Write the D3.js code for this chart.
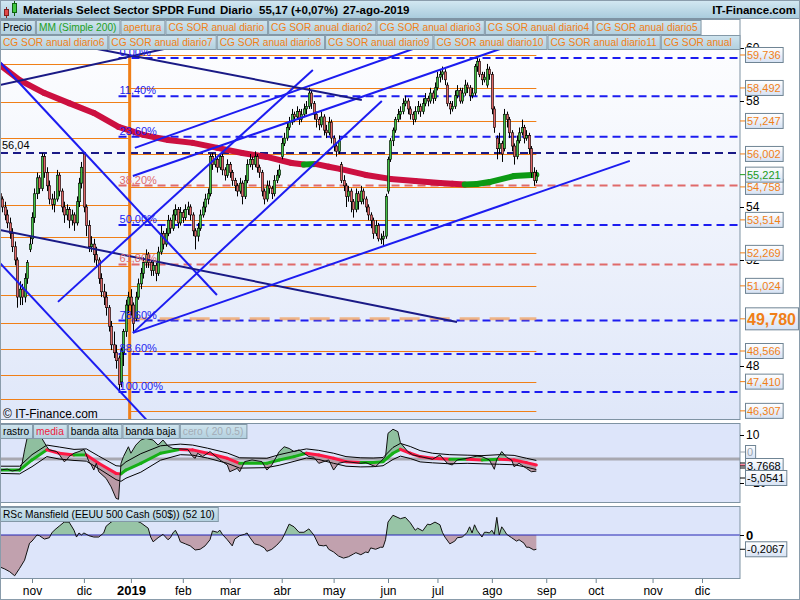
<!DOCTYPE html>
<html>
<head>
<meta charset="utf-8">
<script src="https://cdn.jsdelivr.net/npm/d3@7"></script>
<style>
  body { margin: 0; background: #fff; }
  svg text { font-family: "Liberation Sans", Arial, sans-serif; }
</style>
</head>
<body>
<div id="chart"></div>
<script>
// sessions are counted in trading days from 1-nov-2018 (= 0)
const firstSession = -13;
const opens = [54.5,54.3,54.0,53.7,53.4,53.0,52.5,52.0,50.6,50.9,50.6,51.3,52.4,
  52.8,53.6,54.5,55.1,54.7,55.9,55.3,54.8,54.3,54.1, 54.3,55.2,54.6,54.0,53.7,53.9,53.5,53.7,53.4,54.2,
  54.9,56.0,54.0,53.3,52.5,52.6,52.2,52.0,51.3,50.8, 50.6,50.2,49.5,48.8,48.5,48.3,47.4,48.5,49.3,50.3,
  50.6,50.3,49.8,50.6,51.1,51.5,51.9,52.2,51.9,51.6, 51.8,51.5,52.3,53.0,52.6,53.0,53.5,53.2,53.7,53.9,
  53.4,53.8,53.6,53.9,54.0,53.7,53.1,52.9,53.2,53.7, 54.0,54.3,54.5,55.9,55.6,55.8,55.5,55.9,55.4,55.2,
  55.6,55.3,55.0,54.8,54.6,54.9,54.4,55.0,55.6,55.8, 55.6,55.9,55.5,55.3,54.6,54.3,54.8,54.7,54.5,55.0,
  55.2,55.9,56.4,56.6,57.0,57.2,57.5,57.4,57.6,57.3, 57.5,57.7,57.8,58.3,57.9,57.5,57.3,57.1,57.4,56.9,
  56.8,57.2,56.6,56.3,56.1,55.6,55.0,54.8,54.4,54.6, 54.2,53.9,54.5,54.2,54.6,54.3,54.0,53.7,53.5,53.0,
  53.3,52.8,52.8,52.9,54.6,55.8,56.5,56.9,57.3,57.5, 57.6,57.9,58.0,57.7,57.5,57.3,57.6,57.8,57.6,57.9,
  58.1,58.0,58.3,58.1,58.5,58.9,59.0,59.1,58.6,57.9, 57.7,57.8,58.2,58.4,58.0,58.3,58.6,58.5,58.2,58.3,
  59.3,59.5,59.0,58.8,58.6,59.2,59.0,57.7,56.6,56.2, 56.4,56.2,57.5,57.3,56.8,56.3,55.9,56.5,56.8,57.0,
  56.6,56.7,56.2,55.3,55.0];
const highs = [54.7,54.4,54.2,53.9,53.6,53.2,52.7,52.1,51.2,51.1,51.5,52.0,52.9,
  53.8,54.7,55.3,55.2,56.04,56.0,55.5,55.0,54.5,54.6, 55.4,55.3,54.7,54.2,54.1,54.0,53.9,53.8,54.4,55.1,
  55.7,56.04,54.1,53.5,52.9,52.8,52.5,52.1,51.5,51.1, 50.8,50.3,49.7,49.3,48.8,48.4,48.7,49.4,50.5,50.8,
  50.9,50.4,50.8,51.3,51.7,52.1,52.4,52.3,52.0,52.0, 51.9,52.5,53.3,53.1,53.2,53.7,53.6,53.9,54.1,54.0,
  54.0,53.9,54.1,54.2,54.1,53.8,53.2,53.4,53.9,54.2, 54.5,54.7,56.0,56.04,56.0,55.9,56.04,56.0,55.5,55.8,
  55.7,55.4,55.1,54.9,55.1,55.0,55.2,55.8,56.0,55.9, 56.1,56.0,55.6,55.4,54.7,55.0,55.0,54.8,55.2,55.4,
  55.6,56.6,56.8,57.2,57.4,57.7,57.6,57.8,57.7,57.7, 57.9,58.0,58.5,58.4,58.0,57.6,57.4,57.6,57.5,57.1,
  57.4,57.3,56.7,56.4,56.7,55.7,55.2,54.9,54.8,54.7, 54.3,54.7,54.6,54.8,54.7,54.4,54.1,53.8,53.6,53.5,
  53.4,53.0,53.1,54.5,55.9,56.6,57.0,57.4,57.7,57.8, 58.1,58.2,58.1,57.8,57.6,57.8,58.0,57.9,58.1,58.3,
  58.2,58.5,58.4,58.7,59.1,59.2,59.3,59.2,58.7,58.0, 58.0,58.4,58.6,58.5,58.5,58.8,58.7,58.6,58.5,59.4,
  59.62,59.6,59.1,59.1,59.4,59.3,59.1,57.8,56.7,56.8, 56.5,57.7,57.6,57.4,56.9,56.4,56.7,57.0,57.3,57.1,
  56.9,56.8,56.3,55.5,55.4];
const lows = [54.1,53.8,53.5,53.2,52.8,52.3,51.8,50.2,50.3,50.3,50.4,51.1,52.3,
  52.6,53.4,54.3,54.5,54.6,55.1,54.6,54.1,53.9,53.8, 54.2,54.4,53.8,53.4,53.5,53.2,53.3,53.1,53.3,54.0,
  54.7,53.8,52.9,52.3,52.3,51.9,51.7,51.1,50.6,50.3, 49.9,49.3,48.6,48.3,47.9,47.02,47.2,48.0,49.1,50.0,
  49.9,49.25,49.7,50.5,50.9,51.3,51.7,51.7,51.4,51.4, 51.2,51.4,52.2,52.4,52.5,52.9,53.0,53.1,53.5,53.2,
  53.3,53.4,53.5,53.7,53.5,52.9,52.4,52.7,53.1,53.6, 53.8,54.1,54.4,55.4,55.5,55.3,55.4,55.2,55.0,55.1,
  55.1,54.8,54.6,54.4,54.5,54.1,54.3,54.9,55.5,55.4, 55.5,55.3,55.1,54.4,54.1,54.2,54.5,54.3,54.4,54.9,
  55.1,55.8,56.3,56.5,56.9,57.1,57.2,57.3,57.1,57.2, 57.4,57.5,57.7,57.7,57.3,57.0,56.9,57.0,56.7,56.6,
  56.7,56.4,56.1,55.9,56.0,54.9,54.6,54.0,54.2,53.8, 53.6,53.8,53.9,54.1,54.1,53.8,53.5,53.2,52.8,52.9,
  52.7,52.6,52.5,52.8,54.5,55.7,56.3,56.8,57.2,57.3, 57.5,57.8,57.5,57.3,57.1,57.2,57.5,57.4,57.5,57.8,
  57.8,57.9,57.9,58.0,58.4,58.7,58.8,58.6,57.8,57.5, 57.6,57.7,58.1,57.9,57.9,58.2,58.3,58.0,58.1,58.2,
  59.1,58.9,58.6,58.7,58.5,58.8,57.5,56.8,55.8,56.0, 55.7,56.1,57.0,56.6,56.1,55.6,55.8,56.4,56.7,56.4,
  56.5,56.0,55.1,54.8,54.9];
const closes = [54.3,54.0,53.7,53.4,53.0,52.5,52.0,50.6,50.9,50.6,51.3,51.9,52.6,
  53.6,54.5,55.1,54.7,55.9,55.3,54.8,54.3,54.1,54.3, 55.2,54.6,54.0,53.7,53.9,53.5,53.7,53.4,54.2,54.9,
  55.5,54.0,53.3,52.5,52.6,52.2,52.0,51.3,50.8,50.6, 50.2,49.5,48.8,48.5,48.2,47.3,48.6,49.3,50.3,50.6,
  50.3,49.6,50.6,51.1,51.5,51.9,52.2,51.9,51.6,51.8, 51.5,52.3,53.0,52.6,53.0,53.5,53.2,53.7,53.9,53.4,
  53.8,53.6,53.9,54.0,53.7,53.1,52.9,53.2,53.7,54.0, 54.3,54.5,55.9,55.6,55.8,55.5,55.9,55.4,55.2,55.6,
  55.3,55.0,54.8,54.6,54.9,54.4,55.0,55.6,55.8,55.6, 55.9,55.5,55.3,54.6,54.3,54.8,54.7,54.5,55.0,55.2,
  55.4,56.4,56.6,57.0,57.2,57.5,57.4,57.6,57.3,57.5, 57.7,57.8,58.3,57.9,57.5,57.3,57.1,57.4,56.9,56.8,
  57.2,56.6,56.3,56.1,56.5,55.0,54.8,54.4,54.6,54.2, 53.9,54.5,54.2,54.6,54.3,54.0,53.7,53.5,53.0,53.3,
  52.8,52.8,52.9,54.4,55.8,56.5,56.9,57.3,57.5,57.6, 57.9,58.0,57.7,57.5,57.3,57.6,57.8,57.6,57.9,58.1,
  58.0,58.3,58.1,58.5,58.9,59.0,59.1,58.8,57.9,57.7, 57.8,58.2,58.4,58.0,58.3,58.6,58.5,58.2,58.3,59.3,
  59.5,59.0,58.8,58.9,59.2,59.0,57.7,57.0,56.2,56.4, 56.0,57.5,57.3,56.8,56.3,55.9,56.5,56.8,57.0,56.6,
  56.7,56.2,55.3,55.0,55.17];

// MM (Simple 200), read at a few sessions
const maSessions = [-13,-5,5,15,25,35,45,55,65,75,85,95,105,110,115,120,125,135,145,155,165,170,175,180,185,195,204];
const maValues = [59.36,58.79,58.30,57.92,57.55,57.02,56.72,56.53,56.42,56.23,56.04,55.89,55.66,55.60,55.62,55.52,55.43,55.21,55.06,54.98,54.91,54.88,54.85,54.87,54.94,55.17,55.22];

// levels
const fibHigh = 59.62, fibLow = 47.02, fibSession = 35;
const fibLevels = [0, 11.4, 23.6, 38.2, 50, 61.8, 78.6, 88.6, 100];
const sorRight = [59.736, 58.492, 57.247, 56.002, 54.758, 53.514, 52.269, 51.024, 48.566, 47.410, 46.307];
const sorLeft = [59.40, 57.96, 56.60, 55.32, 54.08, 52.87, 51.77, 50.68, 49.62, 48.64, 47.66, 46.75];
const aperturaLevel = 49.780, aperturaSession = 39.5;
const resistance = 56.04;
const lastMA = 55.221;
const priceTicks = [48, 52, 54, 58, 60];

// drawn trend lines: [session, price] pairs
const trendFrom = [[-13,59.47],[-13,51.89],[-13,53.13],[40.8,49.25],[40.8,49.25],[41.6,56.23],[40.8,55.17],[10.5,50.42],[-13,58.6],[3.2,60.38]];
const trendTo   = [[74.8,50.68],[47,45.9],[171.9,49.66],[241.8,55.74],[141.5,58.0],[160.9,60.19],[190.5,60.0],[113.6,59.17],[70,60.3],[133.4,58.04]];
const trendKind = ["blue","blue","navy","blue","blue","blue","blue","blue","navy","navy"];

// rastro / media / bandas panel
const rastroSessions = [-13,-10,-8,-5,-4,-3,-2,0,2,4,6,7,10,11,13,14,15,17,19,21,22,23,24,25,26,27,30,32,34,35,36,37,39,40,42,44,46,49,51,53,55,57,63,65,66,67,69,72,76,79,80,83,84,86,89,93,95,97,100,102,104,106,108,110,112,114,116,120,122,124,127,133,135,139,141,143,144,146,148,149,152,154,157,162,165,168,170,172,176,180,182,185,187,188,190,192,194,195,197,200,202,204];
const rastroValues = [-4.6,-4.2,-5.0,-4.4,-1.8,3.8,8.6,9.3,9.0,8.6,5.1,3.8,3.1,1.9,-1.1,-0.4,1.0,2.4,3.1,4.0,1.7,-1.1,-2.5,-4.6,-1.8,-5.3,-8.1,-11.6,-16.4,-16.8,-1.8,1.0,5.1,2.4,5.8,7.9,8.6,7.9,5.8,7.9,5.4,4.4,4.0,1.0,0.3,2.4,1.0,3.1,-0.4,-2.5,-5.3,-3.9,-5.3,-1.1,-0.4,-1.1,-4.6,-2.5,3.1,5.1,4.4,3.1,3.8,2.4,1.0,0.7,-1.8,-0.4,-4.6,-1.8,-1.1,-1.8,-1.5,-3.2,-1.1,1.0,10.7,12.4,11.4,6.8,3.1,1.7,1.0,-0.1,1.7,-1.8,-2.5,-0.4,0.3,1.2,1.0,-0.4,-4.3,-0.1,3.1,0.7,-0.4,-3.2,-1.8,-3.9,-5.3,-5.05];
const mediaSessions = [-13,-5,0,6,11,17,22,27,34,36,38,44,52,60,65,71,79,84,95,100,106,111,116,122,127,133,138,142,146,149,153,157,162,169,176,182,189,195,200,204];
const mediaValues = [-4.6,-4.6,-0.4,3.8,2.4,1.7,1.7,-1.8,-6.0,-6.2,-4.6,-1.8,2.4,4.0,3.8,2.4,0.3,-1.8,-1.8,-0.4,1.0,2.4,1.7,0.3,-1.1,-1.5,-1.5,-1.1,2.4,4.0,2.4,1.0,0.3,-0.1,-0.1,-0.4,-0.1,-0.4,-1.5,-2.5];
const bandaAlta = [-3.0,-3.0,1.8,5.8,5.0,4.0,4.2,1.2,-2.8,-3.0,-1.2,2.2,5.5,6.2,5.8,4.5,2.5,0.5,0.3,1.8,3.2,4.2,3.6,2.4,1.0,0.5,0.4,0.6,4.8,6.5,5.2,3.5,2.4,1.8,1.6,1.4,1.8,1.5,0.3,-0.6];
const bandaBaja = [-6.0,-6.2,-3.2,1.0,0.0,-0.6,-0.9,-4.0,-8.6,-9.3,-8.0,-5.5,-0.5,1.8,1.6,0.4,-1.8,-3.8,-3.6,-2.6,-1.0,0.4,-0.2,-1.8,-3.0,-3.3,-3.2,-2.8,-0.2,1.2,0.2,-1.2,-1.6,-2.0,-1.8,-2.0,-2.2,-2.4,-3.4,-4.4];

// RSc Mansfield panel
const rscSessions = [-13,-11,-9,-7,-5,-3,-1,0,2,3,5,7,8,9,11,13,15,17,18,19,20,21,23,25,27,29,30,32,34,36,39,42,44,47,48,49,51,53,55,56,57,58,59,60,62,64,66,68,70,72,73,75,76,77,79,81,82,84,86,87,88,90,92,94,95,97,99,101,102,104,106,108,110,112,114,116,118,119,120,122,124,126,128,130,131,133,135,136,137,139,141,142,143,144,146,149,151,153,155,156,158,160,161,163,165,166,167,169,171,172,174,175,176,177,178,179,180,182,183,184,185,186,187,188,189,190,191,192,194,196,197,199,200,201,203,204];
const rscValues = [-0.47,-0.50,-0.54,-0.60,-0.49,-0.37,-0.12,-0.09,0.0,-0.01,-0.06,-0.04,0.03,0.07,0.13,0.19,0.19,0.07,-0.03,0.03,0.0,0.03,-0.01,-0.03,-0.03,0.03,0.13,0.19,0.22,0.21,0.21,0.21,0.18,0.10,-0.03,-0.10,-0.04,0.01,-0.07,-0.04,0.03,0.07,0.0,-0.10,-0.13,-0.16,-0.22,-0.21,-0.16,-0.07,0.06,0.04,0.07,0.01,-0.07,-0.16,-0.06,-0.01,0.01,0.03,-0.03,-0.13,-0.15,-0.19,-0.24,-0.21,-0.15,-0.07,0.0,0.16,0.12,0.04,0.04,0.09,0.0,-0.15,-0.16,-0.15,-0.21,-0.25,-0.31,-0.34,-0.32,-0.28,-0.26,-0.29,-0.25,-0.26,-0.19,-0.21,-0.18,-0.18,-0.07,0.19,0.29,0.24,0.26,0.18,0.07,0.10,0.06,0.16,0.15,0.19,0.15,0.04,-0.03,-0.13,-0.09,-0.04,-0.03,0.0,0.04,0.12,0.03,0.15,0.07,-0.03,0.04,0.04,0.03,0.07,0.01,0.26,0.0,0.12,0.07,0.01,-0.04,-0.09,-0.07,-0.12,-0.18,-0.18,-0.22,-0.21];

// x axis
const monthSessions = [0,21,40,61,80,101,122,144,164,186,208,228,251,271];
const monthLabels = ["nov","dic","2019","feb","mar","abr","may","jun","jul","ago","sep","oct","nov","dic"];

const legendRow1 = ["Precio","MM (Simple 200)","apertura","CG SOR anual diario","CG SOR anual diario2","CG SOR anual diario3","CG SOR anual diario4","CG SOR anual diario5"];
const legendRow2 = ["CG SOR anual diario6","CG SOR anual diario7","CG SOR anual diario8","CG SOR anual diario9","CG SOR anual diario10","CG SOR anual diario11","CG SOR anual"];
const legendPanel2 = ["rastro","media","banda alta","banda baja","cero ( 20 0.5)"];

// ---------- layout ----------
const width = 800, height = 600, plotRight = 740;
const mainTop = 19, mainBottom = 420;
const p2Top = 423, p2Bottom = 503;
const p3Top = 506, p3Bottom = 579;
const legendFont = 10.2, legendPad = 6;
const orange = "#f07f17", blue = "#1c1cf0", navy = "#1a1a86", salmon = "#e06a6a";
const upGreen = "#44c044", downRed = "#e06868";

const svg = d3.select("#chart").append("svg").attr("width", width).attr("height", height);
const defs = svg.append("defs");

function vGrad(id, stops) {
  const g = defs.append("linearGradient").attr("id", id).attr("x1", 0).attr("y1", 0).attr("x2", 0).attr("y2", 1);
  stops.forEach(s => g.append("stop").attr("offset", s[0]).attr("stop-color", s[1]));
}
vGrad("mainBg", [[0, "#ffffff"], [1, "#dfe7f9"]]);
vGrad("headBg", [[0, "#d3e8f2"], [1, "#a9cbdc"]]);
vGrad("legBg", [[0, "#cfe4ee"], [1, "#b2d0df"]]);
vGrad("boxBg", [[0, "#ffffff"], [1, "#d6e2f4"]]);

function clipRect(id, x0, y0, w, h) {
  defs.append("clipPath").attr("id", id).append("rect").attr("x", x0).attr("y", y0).attr("width", w).attr("height", h);
}
clipRect("clipMain", 0, mainTop, plotRight, mainBottom - mainTop);
clipRect("clipP2", 0, p2Top, plotRight, p2Bottom - p2Top);
clipRect("clipP3", 0, p3Top, plotRight, p3Bottom - p3Top);

// scales
const x = d3.scaleLinear().domain([0, 271]).range([32, 702]);
const y = d3.scaleLinear().domain([46, 61]).range([419, 21.5]);
const y2 = d3.scaleLinear().domain([-10, 10]).range([483, 435]);
const y3 = d3.scaleLinear().domain([-0.5, 0.5]).range([569, 501]);

// backgrounds
svg.append("rect").attr("x", 0).attr("y", mainTop).attr("width", plotRight).attr("height", mainBottom - mainTop).attr("fill", "url(#mainBg)");
svg.append("rect").attr("x", 0).attr("y", p2Top).attr("width", plotRight).attr("height", p2Bottom - p2Top).attr("fill", "#dde5fa");
svg.append("rect").attr("x", 0).attr("y", p3Top).attr("width", plotRight).attr("height", p3Bottom - p3Top).attr("fill", "#dde5fa");

// ---------- main panel ----------
const main = svg.append("g").attr("clip-path", "url(#clipMain)");
const xAp = x(aperturaSession), xLast = x(firstSession + closes.length - 1);

main.selectAll("line.sorL").data(sorLeft).enter().append("line")
  .attr("x1", 0).attr("x2", xAp).attr("y1", d => Math.round(y(d)) + 0.5).attr("y2", d => Math.round(y(d)) + 0.5)
  .attr("stroke", orange).attr("stroke-width", 1);
main.selectAll("line.sorR").data(sorRight).enter().append("line")
  .attr("x1", xAp).attr("x2", xLast).attr("y1", d => Math.round(y(d)) + 0.5).attr("y2", d => Math.round(y(d)) + 0.5)
  .attr("stroke", orange).attr("stroke-width", 1);

// fibonacci
const fibValue = p => fibHigh - (fibHigh - fibLow) * p / 100;
const fibColor = p => (p === 38.2 || p === 61.8) ? salmon : blue;
main.selectAll("line.fib").data(fibLevels).enter().append("line")
  .attr("x1", x(fibSession)).attr("x2", plotRight).attr("y1", d => y(fibValue(d))).attr("y2", d => y(fibValue(d)))
  .attr("stroke", fibColor).attr("stroke-width", 2).attr("stroke-dasharray", "8,5");

// apertura level
main.append("line").attr("x1", xAp).attr("x2", xLast).attr("y1", y(aperturaLevel)).attr("y2", y(aperturaLevel))
  .attr("stroke", "#f0a060").attr("stroke-opacity", 0.75).attr("stroke-width", 3).attr("stroke-dasharray", "20,10");

// resistance 56,04
main.append("line").attr("x1", 0).attr("x2", plotRight).attr("y1", y(resistance)).attr("y2", y(resistance))
  .attr("stroke", navy).attr("stroke-width", 2).attr("stroke-dasharray", "8,5");

// vertical apertura line
main.append("line").attr("x1", xAp).attr("x2", xAp).attr("y1", y(sorRight[0])).attr("y2", mainBottom)
  .attr("stroke", orange).attr("stroke-width", 3);

// moving average, coloured by slope
const maPts = maSessions.map((s, k) => [s, maValues[k]]);
main.selectAll("line.ma").data(d3.pairs(maPts)).enter().append("line")
  .attr("x1", d => x(d[0][0])).attr("y1", d => y(d[0][1])).attr("x2", d => x(d[1][0])).attr("y2", d => y(d[1][1]))
  .attr("stroke", d => d[1][1] >= d[0][1] ? "#0c9a14" : "#cc1040")
  .attr("stroke-width", 6).attr("stroke-linecap", "round");

// candles
const candles = closes.map((c, k) => ({ s: firstSession + k, o: opens[k], h: highs[k], l: lows[k], c: c }));
const cx = d => Math.round(x(d.s)) + 0.5;
main.selectAll("line.wick").data(candles).enter().append("line")
  .attr("x1", cx).attr("x2", cx).attr("y1", d => y(d.h)).attr("y2", d => y(d.l))
  .attr("stroke", "#000").attr("stroke-width", 1);
main.selectAll("rect.body").data(candles).enter().append("rect")
  .attr("x", d => cx(d) - 1.2).attr("width", 2.4)
  .attr("y", d => y(Math.max(d.o, d.c)))
  .attr("height", d => Math.max(1, Math.abs(y(d.o) - y(d.c))))
  .attr("fill", d => d.c >= d.o ? upGreen : downRed)
  .attr("stroke", "#000").attr("stroke-width", 0.6);

// trend lines
main.selectAll("line.trend").data(trendFrom).enter().append("line")
  .attr("x1", d => x(d[0])).attr("y1", d => y(d[1]))
  .attr("x2", (d, k) => x(trendTo[k][0])).attr("y2", (d, k) => y(trendTo[k][1]))
  .attr("stroke", (d, k) => trendKind[k] === "navy" ? navy : blue)
  .attr("stroke-width", 2);

// fib labels
const fmtPct = p => d3.format(".2f")(p).replace(".", ",") + "%";
main.selectAll("text.fib").data(fibLevels).enter().append("text")
  .attr("x", x(fibSession) + 1).attr("y", d => y(fibValue(d)) - 2)
  .attr("fill", fibColor).style("font-size", "11px").text(fmtPct);

main.append("text").attr("x", 2).attr("y", y(resistance) - 4).style("font-size", "11px").attr("fill", "#000")
  .text(String(resistance).replace(".", ","));
main.append("text").attr("x", 3).attr("y", 418).style("font-size", "12px").attr("fill", "#000").text("© IT-Finance.com");

// ---------- panel 2 ----------
const p2 = svg.append("g").attr("clip-path", "url(#clipP2)");
const rastro = rastroSessions.map((s, k) => ({ s: s, v: rastroValues[k] }));
const media = mediaSessions.map((s, k) => ({ s: s, v: mediaValues[k], a: bandaAlta[k], b: bandaBaja[k] }));

defs.append("clipPath").attr("id", "aboveMedia").append("path")
  .attr("d", d3.area().x(d => x(d.s)).y0(p2Top).y1(d => y2(d.v))(media));
defs.append("clipPath").attr("id", "belowMedia").append("path")
  .attr("d", d3.area().x(d => x(d.s)).y0(p2Bottom).y1(d => y2(d.v))(media));

p2.append("line").attr("x1", 0).attr("x2", plotRight).attr("y1", y2(0)).attr("y2", y2(0))
  .attr("stroke", "#a8a8b0").attr("stroke-width", 3);
p2.append("path").attr("clip-path", "url(#aboveMedia)")
  .attr("d", d3.area().x(d => x(d.s)).y0(p2Bottom).y1(d => y2(d.v))(rastro)).attr("fill", "#8fbf9f");
p2.append("path").attr("clip-path", "url(#belowMedia)")
  .attr("d", d3.area().x(d => x(d.s)).y0(p2Top).y1(d => y2(d.v))(rastro)).attr("fill", "#b99aa6");
const lineP2 = key => d3.line().x(d => x(d.s)).y(d => y2(d[key]));
p2.append("path").attr("d", lineP2("a")(media)).attr("fill", "none").attr("stroke", "#000").attr("stroke-width", 1);
p2.append("path").attr("d", lineP2("b")(media)).attr("fill", "none").attr("stroke", "#000").attr("stroke-width", 1);
p2.selectAll("line.media").data(d3.pairs(media)).enter().append("line")
  .attr("x1", d => x(d[0].s)).attr("y1", d => y2(d[0].v)).attr("x2", d => x(d[1].s)).attr("y2", d => y2(d[1].v))
  .attr("stroke", d => d[1].v >= d[0].v ? "#16b016" : "#ff1744").attr("stroke-width", 3).attr("stroke-linecap", "round");
p2.append("path").attr("d", lineP2("v")(rastro)).attr("fill", "none").attr("stroke", "#111").attr("stroke-width", 1);

// ---------- panel 3 ----------
const p3 = svg.append("g").attr("clip-path", "url(#clipP3)");
const rsc = rscSessions.map((s, k) => ({ s: s, v: rscValues[k] }));
clipRect("rscUp", 0, p3Top, plotRight, y3(0) - p3Top);
clipRect("rscDown", 0, y3(0), plotRight, p3Bottom - y3(0));
const rscArea = d3.area().x(d => x(d.s)).y0(y3(0)).y1(d => y3(d.v));
p3.append("path").attr("clip-path", "url(#rscUp)").attr("d", rscArea(rsc)).attr("fill", "#97c4a6");
p3.append("path").attr("clip-path", "url(#rscDown)").attr("d", rscArea(rsc)).attr("fill", "#c1a1ae");
p3.append("line").attr("x1", 0).attr("x2", plotRight).attr("y1", y3(0)).attr("y2", y3(0)).attr("stroke", "#2424b4").attr("stroke-width", 1);
p3.append("path").attr("d", d3.line().x(d => x(d.s)).y(d => y3(d.v))(rsc)).attr("fill", "none").attr("stroke", "#111").attr("stroke-width", 1);

// ---------- frames ----------
[[mainTop, mainBottom], [p2Top, p2Bottom], [p3Top, p3Bottom]].forEach(r => {
  svg.append("rect").attr("x", 0.5).attr("y", r[0] + 0.5).attr("width", plotRight - 0.5).attr("height", r[1] - r[0] - 1)
    .attr("fill", "none").attr("stroke", "#7f93a3");
});

// ---------- right axes ----------
const axMain = svg.append("g").attr("transform", `translate(${plotRight},0)`)
  .call(d3.axisRight(y).tickValues(priceTicks).tickSize(4).tickPadding(2).tickFormat(d3.format("d")));
axMain.select(".domain").remove();
axMain.selectAll("text").style("font-size", "12px").attr("fill", "#000");

const ax2 = svg.append("g").attr("transform", `translate(${plotRight},0)`)
  .call(d3.axisRight(y2).tickValues([10, -10]).tickSize(4).tickPadding(2));
ax2.select(".domain").remove();
ax2.selectAll("text").style("font-size", "12px").attr("fill", "#000");

const ax3 = svg.append("g").attr("transform", `translate(${plotRight},0)`)
  .call(d3.axisRight(y3).tickValues([0]).tickSize(4).tickPadding(2).tickFormat(d3.format("d")));
ax3.select(".domain").remove();
ax3.selectAll("text").style("font-size", "13px").style("font-weight", "bold").attr("fill", "#000");

function valueBox(yc, label, color, opts) {
  const o = Object.assign({ size: 11, bold: false, h: 15 }, opts || {});
  const g = svg.append("g");
  g.append("line").attr("x1", plotRight).attr("x2", plotRight + 5).attr("y1", yc).attr("y2", yc).attr("stroke", color);
  const t = g.append("text").attr("x", plotRight + 7).attr("y", yc).attr("dy", "0.36em")
    .attr("fill", color).style("font-size", o.size + "px").style("font-weight", o.bold ? "bold" : "normal").text(label);
  const w = t.node().getComputedTextLength();
  g.insert("rect", "text").attr("x", plotRight + 5.5).attr("y", yc - o.h / 2).attr("width", w + 4).attr("height", o.h)
    .attr("fill", "url(#boxBg)").attr("stroke", "#6f8494");
}
const fmt3 = v => v.toFixed(3).replace(".", ",");
sorRight.forEach(v => valueBox(y(v), fmt3(v), orange));
valueBox(y(lastMA), fmt3(lastMA), "#1a9a1a");
valueBox(y(aperturaLevel), fmt3(aperturaLevel), orange, { size: 16, bold: true, h: 22 });

// panel 2 readouts
valueBox(452, "0", "#9aa4ae", { h: 13 });
[["#000", 463], ["#ff1744", 465], ["#000", 468]].forEach(t => {
  svg.append("line").attr("x1", plotRight).attr("x2", plotRight + 6).attr("y1", t[1]).attr("y2", t[1]).attr("stroke", t[0]);
});
valueBox(466, "3,7668", "#000");
valueBox(478, "-5,0541", "#000");
valueBox(y3(rscValues[rscValues.length - 1]), "-0,2067", "#000");

// ---------- x axis ----------
const axX = svg.append("g").attr("transform", `translate(0,${p3Bottom})`)
  .call(d3.axisBottom(x).tickValues(monthSessions).tickSize(4).tickPadding(3).tickFormat((d, k) => monthLabels[k]));
axX.select(".domain").remove();
axX.selectAll("line").attr("stroke", "#6f8494");
axX.selectAll("text").style("font-size", "12px").attr("fill", "#000")
  .filter(d => d === 40).style("font-weight", "bold").style("font-size", "13px");

// ---------- legends ----------
function legendRow(parent, names, colors, x0, y0, lastTo) {
  let xx = x0;
  names.forEach((name, k) => {
    const g = parent.append("g");
    const t = g.append("text").attr("x", xx + legendPad / 2).attr("y", y0 + 11).attr("fill", colors[k])
      .style("font-size", legendFont + "px").text(name);
    let w = t.node().getComputedTextLength() + legendPad;
    if (lastTo && k === names.length - 1) w = lastTo - xx - 0.5;
    g.insert("rect", "text").attr("x", xx + 0.5).attr("y", y0 + 0.5).attr("width", w).attr("height", 14)
      .attr("fill", "url(#legBg)").attr("stroke", "#8398a7");
    xx += w + 1;
  });
}
legendRow(svg, legendRow1, ["#000", "#22a022"].concat(legendRow1.slice(2).map(() => orange)), 0, 20);
legendRow(svg, legendRow2, legendRow2.map(() => orange), 0, 35, plotRight);
legendRow(svg, legendPanel2, ["#000", "#ee1c3c", "#000", "#000", "#a3acb6"], 0, p2Top + 1);
legendRow(svg, ["RSc Mansfield (EEUU 500 Cash (50$)) (52 10)"], ["#000"], 0, p3Top + 1);

// ---------- header ----------
svg.append("rect").attr("x", 0.5).attr("y", 0.5).attr("width", width - 1).attr("height", 18).attr("fill", "url(#headBg)").attr("stroke", "#7f93a3");
const icon = svg.append("g");
icon.append("line").attr("x1", 6.5).attr("x2", 6.5).attr("y1", 7).attr("y2", 18).attr("stroke", "#802020");
icon.append("rect").attr("x", 4.5).attr("y", 9.5).attr("width", 4).attr("height", 6).attr("fill", "#e04848").attr("stroke", "#802020");
icon.append("line").attr("x1", 14.5).attr("x2", 14.5).attr("y1", 1).attr("y2", 16).attr("stroke", "#106010");
icon.append("rect").attr("x", 12.5).attr("y", 3.5).attr("width", 4).attr("height", 9).attr("fill", "#40c840").attr("stroke", "#106010");
const headerParts = [["Materials Select Sector SPDR Fund", 23], ["Diario", 220], ["55,17 (+0,07%)", 259], ["27-ago-2019", 343]];
headerParts.forEach(p => {
  svg.append("text").attr("x", p[1]).attr("y", 14).style("font-size", "11.5px").style("font-weight", "bold").attr("fill", "#000").text(p[0]);
});
svg.append("text").attr("x", 796).attr("y", 14).attr("text-anchor", "end").style("font-size", "11.5px").style("font-weight", "bold").attr("fill", "#000").text("IT-Finance.com");

// outer frame
svg.append("rect").attr("x", 0.5).attr("y", 0.5).attr("width", width - 1).attr("height", height - 1).attr("fill", "none").attr("stroke", "#8a9cab");
</script>
</body>
</html>
